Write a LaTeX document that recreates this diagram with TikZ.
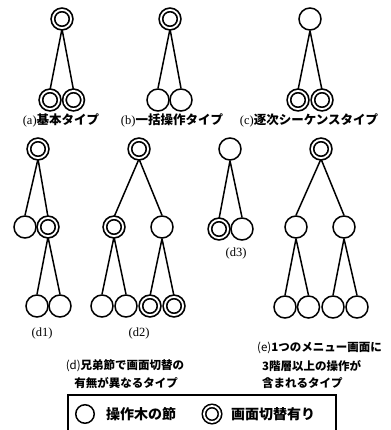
\documentclass[tikz,border=0pt]{standalone}
\usepackage{fontspec}
\setmainfont{Liberation Serif}
\newfontfamily\jp{Noto Sans CJK JP}
\usetikzlibrary{backgrounds}
\begin{document}
\begin{tikzpicture}[x=1pt,y=-1pt,
  plain/.style={circle,draw,fill=white,line width=1.5pt,minimum size=22pt,inner sep=0pt},
  dbl/.style={circle,draw,fill=white,line width=1.7pt,double,double distance=1.8pt,minimum size=18.2pt,inner sep=0pt},
  lgplain/.style={circle,draw,line width=1.5pt,minimum size=18.5pt,inner sep=0pt},
  lgdbl/.style={circle,draw,line width=1.6pt,double,double distance=1.8pt,minimum size=16pt,inner sep=0pt},
  edge/.style={line width=1.5pt},
  lab/.style={inner sep=0pt,font=\fontsize{12.5}{12.5}\selectfont},
  txt/.style={inner sep=0pt,font=\fontsize{11.5}{11.5}\selectfont\jp\bfseries},
  lgtxt/.style={inner sep=0pt,anchor=west,font=\fontsize{14}{14}\selectfont\jp\bfseries}]
\useasboundingbox (0,0) rectangle (390,430);
% (a)
\node[dbl] (ar) at (62,19) {};
\node[dbl] (a1) at (50,100) {};
\node[dbl] (a2) at (73.5,100) {};
% (b)
\node[dbl] (br) at (170,19) {};
\node[plain] (b1) at (158,100) {};
\node[plain] (b2) at (181,100) {};
% (c)
\node[plain] (cr) at (310,19) {};
\node[dbl] (c1) at (298,100) {};
\node[dbl] (c2) at (322,100) {};
% (d1)
\node[dbl] (d1r) at (38,149) {};
\node[plain] (d1m1) at (25,227) {};
\node[dbl] (d1m2) at (48,227) {};
\node[plain] (d1b1) at (37,306) {};
\node[plain] (d1b2) at (60,306) {};
% (d2)
\node[dbl] (d2r) at (139,149) {};
\node[dbl] (d2m1) at (114,227) {};
\node[plain] (d2m2) at (162,227) {};
\node[plain] (d2b1) at (102,306) {};
\node[plain] (d2b2) at (126,306) {};
\node[dbl] (d2b3) at (150,306) {};
\node[dbl] (d2b4) at (174,306) {};
% (d3)
\node[plain] (d3r) at (230,149) {};
\node[dbl] (d3c1) at (219,229) {};
\node[plain] (d3c2) at (242,229) {};
% (e)
\node[dbl] (er) at (321,149) {};
\node[plain] (em1) at (296,227) {};
\node[plain] (em2) at (344,227) {};
\node[plain] (eb1) at (285,307) {};
\node[plain] (eb2) at (308.5,307) {};
\node[plain] (eb3) at (333,307) {};
\node[plain] (eb4) at (357,307) {};
\begin{scope}[on background layer]
\foreach \p/\c in {ar/a1,ar/a2,br/b1,br/b2,cr/c1,cr/c2,
  d1r/d1m1,d1r/d1m2,d1m2/d1b1,d1m2/d1b2,
  d2r/d2m1,d2r/d2m2,d2m1/d2b1,d2m1/d2b2,d2m2/d2b3,d2m2/d2b4,
  d3r/d3c1,d3r/d3c2,
  er/em1,er/em2,em1/eb1,em1/eb2,em2/eb3,em2/eb4}
  \draw[edge] (\p.south) -- (\c.north);
\end{scope}
% labels
\node[lab] (la) at (61,120) {(a){\jp\bfseries 基本タイプ}};
\node[lab] (lb) at (172,120) {(b){\jp\bfseries 一括操作タイプ}};
\node[lab] (lc) at (309,120) {(c){\jp\bfseries 逐次シーケンスタイプ}};
\node[lab] (ld1) at (42,333) {(d1)};
\node[lab] (ld2) at (139,333) {(d2)};
\node[lab] (ld3) at (236,253) {(d3)};
\node[txt] (ld) at (125,366) {{\mdseries(d)}兄弟節で画面切替の};
\node[txt] (ld') at (126,383) {有無が異なるタイプ};
\node[txt,anchor=west] (le) at (257,348) {{\mdseries(e)}1つのメニュー画面に};
\node[txt,anchor=west] (le2) at (262,366) {3階層以上の操作が};
\node[txt,anchor=west] (le3) at (262,383) {含まれるタイプ};
% legend
\draw[line width=1.2pt] (68,431) -- (68,395) -- (336,395) -- (336,431);
\node[lgplain] (lg1) at (85,414) {};
\node[lgtxt] (lgt1) at (106,414) {操作木の節};
\node[lgdbl] (lg2) at (212,414) {};
\node[lgtxt] (lgt2) at (231,414) {画面切替有り};
\end{tikzpicture}
\end{document}
